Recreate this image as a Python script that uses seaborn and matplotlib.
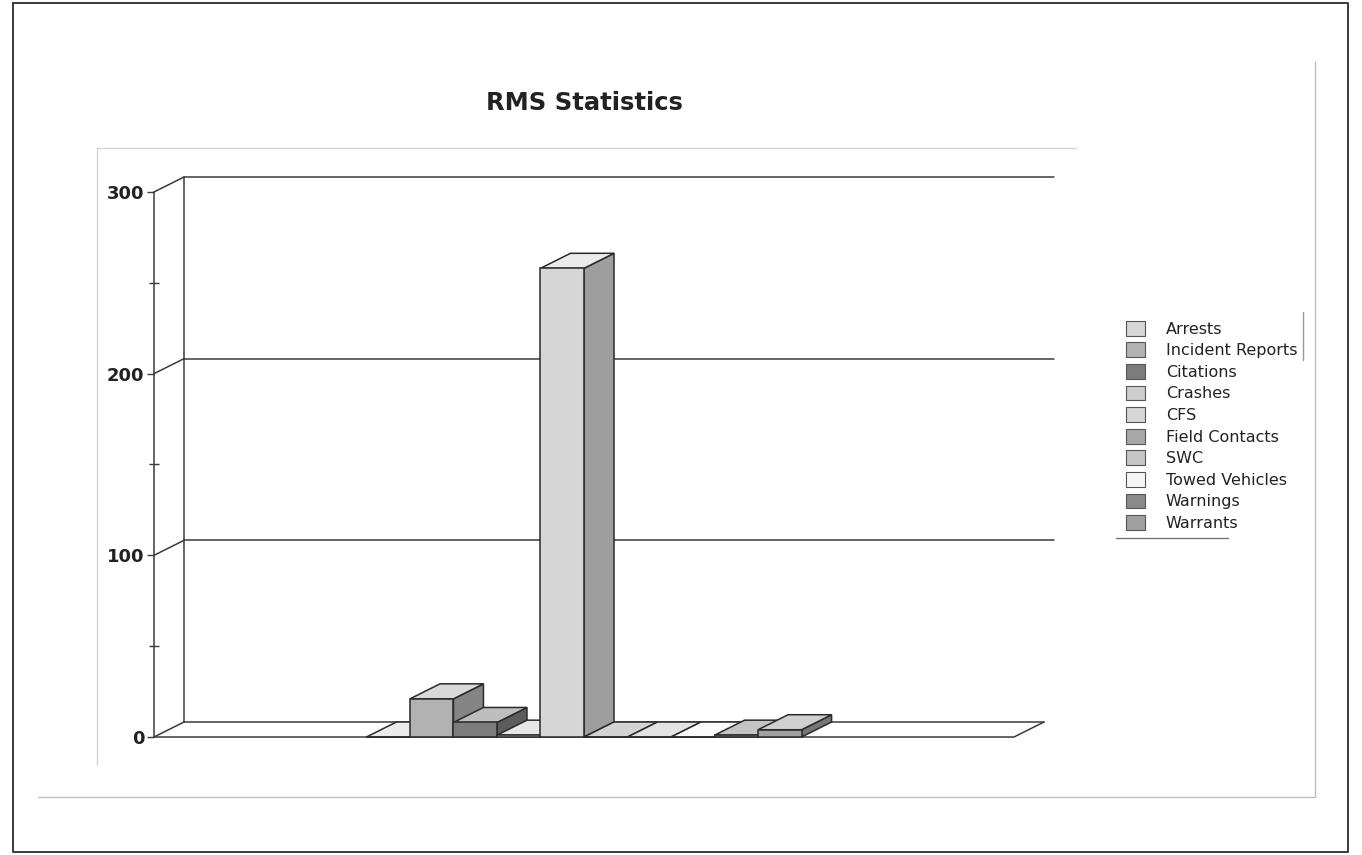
import matplotlib
matplotlib.use("Agg")
import matplotlib.pyplot as plt
from matplotlib.patches import Polygon, Patch
from matplotlib.lines import Line2D
import seaborn as sns
import pandas as pd
import numpy as np

# ---- data ----
series = ["Arrests", "Incident Reports", "Citations", "Crashes", "CFS",
          "Field Contacts", "SWC", "Towed Vehicles", "Warnings", "Warrants"]
values = [0, 21, 8, 1, 258, 0, 0, 0, 1, 4]
colors = ["#d6d6d6", "#b2b2b2", "#7c7c7c", "#cecece", "#d6d6d6",
          "#a8a8a8", "#c6c6c6", "#f6f6f6", "#8a8a8a", "#a0a0a0"]
y_ticks = [0, 100, 200, 300]
title = "RMS Statistics"

df = pd.DataFrame({"group": [""] * len(series), "series": series, "value": values})

W, H = 1362, 855
sns.set_theme(style="white")
plt.rcParams["font.family"] = ["DejaVu Sans"]
fig = plt.figure(figsize=(W / 100, H / 100), dpi=100)
fig.patch.set_facecolor("white")

# front plot box in pixels
L, R, B, T = 154, 1014, 737, 192
ax = fig.add_axes([L / W, 1 - B / H, (R - L) / W, (B - T) / H])
ax.set_facecolor("none")

sns.barplot(data=df, x="group", y="value", hue="series", hue_order=series,
            palette=colors, width=0.506, gap=0, dodge=True, legend=False,
            edgecolor="#2a2a2a", linewidth=1.1, saturation=1, ax=ax)
ax.set_xlim(-0.5, 0.5)
ax.set_ylim(0, 300)

# depth offsets (data units)
DXP, DYP = 30, 15
DX = DXP * 1.0 / (R - L)
DY = DYP * 300.0 / (B - T)

line_kw = dict(color="#3a3a3a", lw=1.1, clip_on=False)
# back wall grid lines and left wall diagonals
for yv in y_ticks:
    ax.plot([-0.5, -0.5 + DX], [yv, yv + DY], zorder=1, **line_kw)
    xe = 0.5 + DX if yv == 0 else 0.5 + DX + 10.0 / (R - L)
    ax.plot([-0.5 + DX, xe], [yv + DY, yv + DY], zorder=1, **line_kw)
ax.plot([-0.5 + DX, -0.5 + DX], [DY, 300 + DY], zorder=1, **line_kw)
# floor
ax.plot([-0.5, 0.5, 0.5 + DX], [0, 0, DY], zorder=2, **line_kw)

def shade(c, f):
    rgb = np.array(matplotlib.colors.to_rgb(c))
    return tuple(np.clip(rgb * f, 0, 1))

def tint(c, f):
    rgb = np.array(matplotlib.colors.to_rgb(c))
    return tuple(rgb + (1 - rgb) * f)

bars = [p for p in ax.patches]
for i, p in enumerate(bars):
    x0 = p.get_x()
    x1 = x0 + p.get_width()
    h = p.get_height()
    base = colors[i]
    z = 3 + i * 0.1
    side = Polygon([(x1, 0), (x1 + DX, DY), (x1 + DX, h + DY), (x1, h)],
                   closed=True, facecolor=shade(base, 0.74), edgecolor="#2a2a2a",
                   lw=1.1, zorder=z, clip_on=False)
    top = Polygon([(x0, h), (x1, h), (x1 + DX, h + DY), (x0 + DX, h + DY)],
                  closed=True, facecolor=tint(base, 0.5), edgecolor="#2a2a2a",
                  lw=1.1, zorder=z + 0.01, clip_on=False)
    ax.add_patch(side)
    ax.add_patch(top)
    p.set_zorder(z + 0.02)
    p.set_clip_on(False)

for s in ["top", "right", "bottom"]:
    ax.spines[s].set_visible(False)
ax.spines["left"].set_color("#3a3a3a")
ax.spines["left"].set_linewidth(1.1)
ax.set_xticks([])
ax.set_xlabel("")
ax.set_ylabel("")
ax.set_yticks(y_ticks)
ax.set_yticklabels([str(v) for v in y_ticks], fontweight="bold", fontsize=13,
                   color="#222222")
ax.set_yticks([50, 150, 250], minor=True)
ax.tick_params(axis="y", which="major", direction="out", length=5, width=1,
               color="#3a3a3a", pad=2, left=True)
ax.tick_params(axis="y", which="minor", direction="inout", length=7, width=1,
               color="#3a3a3a", left=True)

# title
fig.text(584 / W, 1 - 103 / H, title, ha="center", va="center",
         fontsize=17.5, fontweight="bold", color="#222222")

# legend
handles = [Patch(facecolor=c, edgecolor="#555555", lw=0.8) for c in colors]
leg = fig.legend(handles, series, loc="upper left",
                 bbox_to_anchor=(1113 / W, 1 - 308 / H), frameon=False,
                 fontsize=11.5, handlelength=1.2, handleheight=1.05,
                 labelspacing=0.36, handletextpad=1.3, borderpad=0.3)
for t in leg.get_texts():
    t.set_color("#222222")

# frame lines (figure pixel coords)
def fline(xs, ys, color, lw):
    fig.add_artist(Line2D([x / W for x in xs], [1 - y / H for y in ys],
                          transform=fig.transFigure, color=color, lw=lw))

fline([13, 1348, 1348, 13, 13], [3, 3, 852, 852, 3], "#3a3a3a", 1.4)
fline([38, 1315, 1315], [797, 797, 62], "#bdbdbd", 1.0)
fline([97, 97, 1076], [765, 148, 148], "#d4d4d4", 1.0)
fline([1116, 1228], [538, 538], "#777777", 1.0)
fline([1303, 1303], [312, 360], "#999999", 1.0)

fig.savefig("out.png", dpi=100, facecolor="white")
